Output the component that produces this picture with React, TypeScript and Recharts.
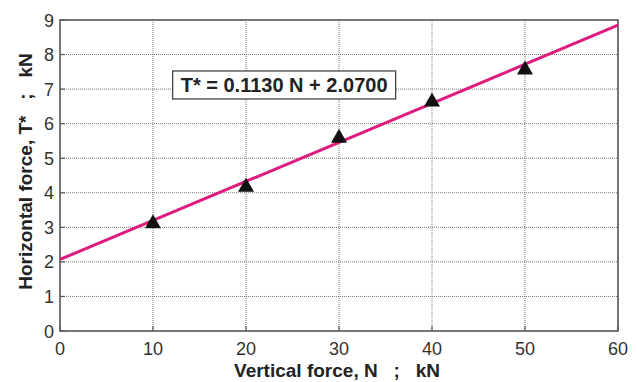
import React from 'react';
import {
  ComposedChart,
  XAxis,
  YAxis,
  CartesianGrid,
  Line,
  Scatter,
  ReferenceArea,
  ReferenceDot,
  Label,
} from 'recharts';

// Measured points: vertical force N (kN) vs horizontal force T* (kN)
const verticalForce = [10, 20, 30, 40, 50];
const horizontalForce = [3.15, 4.2, 5.62, 6.67, 7.6];

// Linear fit T* = slope * N + intercept
const fitSlope = 0.113;
const fitIntercept = 2.07;
const fitRange = [0, 60];
const equationText = 'T* = 0.1130 N + 2.0700';

const xTicks = [0, 10, 20, 30, 40, 50, 60];
const yTicks = [0, 1, 2, 3, 4, 5, 6, 7, 8, 9];

const xTitle = 'Vertical force, N   ;   kN';
const yTitle = 'Horizontal force, T*   ;   kN';

const measured = verticalForce.map((n, i) => ({ n, t: horizontalForce[i] }));
const fitLine = fitRange.map((n) => ({ n, fit: fitSlope * n + fitIntercept }));

const FONT = 'Liberation Sans, Arial, sans-serif';
const FRAME = '#555';

const XTick = (props: any) => {
  const { x, y, payload } = props;
  return (
    <g>
      <line x1={x} y1={y} x2={x} y2={y - 5} stroke={FRAME} strokeWidth={1.2} />
      <text x={x} y={y + 24} textAnchor="middle" fontSize={18} fontFamily={FONT} fill="#333">
        {payload.value}
      </text>
    </g>
  );
};

const YTick = (props: any) => {
  const { x, y, payload } = props;
  return (
    <g>
      <line x1={x} y1={y} x2={x + 5} y2={y} stroke={FRAME} strokeWidth={1.2} />
      <text x={x - 6} y={y + 6.5} textAnchor="end" fontSize={18} fontFamily={FONT} fill="#333">
        {payload.value}
      </text>
    </g>
  );
};

const Triangle = (props: any) => {
  const { cx, cy } = props;
  if (cx == null || cy == null) return null;
  return (
    <polygon
      points={`${cx},${cy - 8} ${cx - 8},${cy + 6} ${cx + 8},${cy + 6}`}
      fill="#111"
    />
  );
};

const EquationBox = (props: any) => {
  const { cx, cy } = props;
  if (cx == null || cy == null) return null;
  const w = 223;
  const h = 28;
  return (
    <g>
      <rect x={cx - w / 2} y={cy - h / 2} width={w} height={h} fill="#fff" stroke="#444" strokeWidth={1.3} />
      <text
        x={cx}
        y={cy + 7}
        textAnchor="middle"
        fontSize={20}
        fontWeight="bold"
        fontFamily={FONT}
        fill="#222"
      >
        {equationText}
      </text>
    </g>
  );
};

export default function App() {
  return (
    <div style={{ position: 'absolute', left: 0, top: 0, background: '#fff' }}>
      <ComposedChart
        width={637}
        height={382}
        data={fitLine}
        margin={{ top: 20, right: 19, bottom: 0, left: 0 }}
      >
        <CartesianGrid stroke="#777" strokeDasharray="1 1" strokeWidth={1} />
        <XAxis
          dataKey="n"
          type="number"
          domain={[0, 60]}
          ticks={xTicks}
          axisLine={false}
          tickLine={false}
          tickSize={0}
          tickMargin={0}
          height={51}
          tick={<XTick />}
          interval={0}
        >
          <Label
            content={(p: any) => {
              const vb = p.viewBox;
              return (
                <text
                  x={vb.x + vb.width / 2 - 2}
                  y={vb.y + 46}
                  textAnchor="middle"
                  fontSize={19}
                  fontWeight="bold"
                  fontFamily={FONT}
                  fill="#222"
                  style={{ whiteSpace: 'pre' }}
                >
                  {xTitle}
                </text>
              );
            }}
          />
        </XAxis>
        <YAxis
          type="number"
          domain={[0, 9]}
          ticks={yTicks}
          axisLine={false}
          tickLine={false}
          tickSize={0}
          tickMargin={0}
          width={60}
          tick={<YTick />}
          interval={0}
        >
          <Label
            content={(p: any) => {
              const vb = p.viewBox;
              const cx = vb.x + 25;
              const cy = vb.y + vb.height / 2 - 4;
              return (
                <text
                  x={cx}
                  y={cy}
                  transform={`rotate(-90, ${cx}, ${cy})`}
                  textAnchor="middle"
                  dominantBaseline="central"
                  fontSize={19}
                  fontWeight="bold"
                  fontFamily={FONT}
                  fill="#222"
                  style={{ whiteSpace: 'pre' }}
                >
                  {yTitle}
                </text>
              );
            }}
          />
        </YAxis>
        <ReferenceArea x1={0} x2={60} y1={0} y2={9} fill="none" stroke={FRAME} strokeWidth={1.5} />
        <Line
          dataKey="fit"
          stroke="#DD1C7E"
          strokeWidth={3}
          dot={false}
          activeDot={false}
          isAnimationActive={false}
        />
        <Scatter data={measured} dataKey="t" shape={<Triangle />} isAnimationActive={false} />
        <ReferenceDot x={24.1} y={7.12} r={0} shape={<EquationBox />} />
      </ComposedChart>
    </div>
  );
}
